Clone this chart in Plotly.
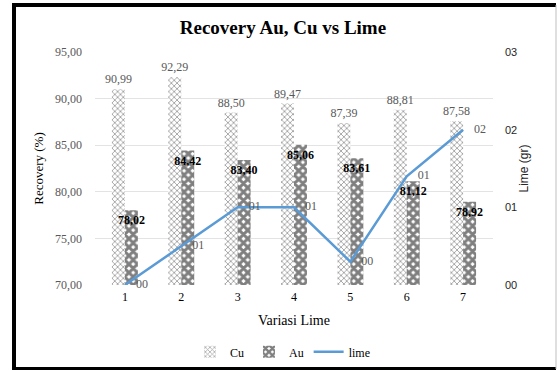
import plotly.graph_objects as go

categories = ["1", "2", "3", "4", "5", "6", "7"]
cu_values = [90.99, 92.29, 88.50, 89.47, 87.39, 88.81, 87.58]
au_values = [78.02, 84.42, 83.40, 85.06, 83.61, 81.12, 78.92]
lime_values = [0.000, 0.005, 0.010, 0.010, 0.003, 0.014, 0.020]
lime_labels = ["00", "01", "01", "01", "00", "01", "02"]
left_ticks = [70, 75, 80, 85, 90, 95]
right_ticks = [0.0, 0.01, 0.02, 0.03]
right_tick_labels = ["00", "01", "02", "03"]

SERIF = "Liberation Serif"
SANS = "Liberation Sans"
GRAY = "#595959"

fig = go.Figure()
fig.add_trace(go.Bar(
    x=categories, y=cu_values, name="Cu",
    marker=dict(color="white", line=dict(width=0),
                pattern=dict(shape="x", fgcolor="#444444", bgcolor="white",
                             size=4, solidity=0.4)),
    texttemplate="%{y:.2f}", textposition="outside", cliponaxis=False,
    constraintext="none",
    textfont=dict(family=SERIF, size=12, color=GRAY), textangle=0,
))
fig.add_trace(go.Bar(
    x=categories, y=au_values, name="Au",
    marker=dict(color="white", line=dict(width=0),
                pattern=dict(shape="x", fgcolor="black", bgcolor="white",
                             size=6, solidity=0.75)),
    texttemplate="<b>%{y:.2f}</b>", textposition="inside",
    insidetextanchor="end", constraintext="none", textangle=0,
    textfont=dict(family=SERIF, size=12, color="black"),
))
fig.add_trace(go.Scatter(
    x=categories, y=lime_values, name="lime", yaxis="y2",
    mode="lines+markers+text", text=lime_labels, textposition="middle right",
    line=dict(color="#5b9bd5", width=2.5),
    marker=dict(size=16, color="rgba(0,0,0,0)"),
    textfont=dict(family=SERIF, size=12, color=GRAY), cliponaxis=False,
))

border = dict(xref="paper", yref="paper", layer="above")
fig.update_layout(
    width=557, height=370,
    margin=dict(l=95, r=64, t=52, b=85, autoexpand=False),
    paper_bgcolor="white", plot_bgcolor="white",
    separators=",.",
    barmode="group", bargap=0.54, bargroupgap=0,
    font=dict(family=SERIF, size=12, color=GRAY),
    title=dict(text="<b>Recovery Au, Cu vs Lime</b>", x=0.508, xanchor="center",
               y=0.927, yanchor="middle",
               font=dict(family=SERIF, size=19, color="black")),
    xaxis=dict(showgrid=False, showline=False, ticks="", automargin=False,
               ticklabelstandoff=3,
               tickfont=dict(family=SERIF, size=12, color="black"),
               title=dict(text="Variasi Lime", standoff=12,
                          font=dict(family=SERIF, size=14, color="black"))),
    yaxis=dict(range=[70, 95], tickvals=left_ticks, tickformat=".2f",
               showgrid=True, gridcolor="#e3e3e3", gridwidth=1,
               zeroline=False, showline=False, ticks="", automargin=False,
               ticklabelstandoff=12,
               tickfont=dict(family=SERIF, size=12, color=GRAY),
               title=dict(text="Recovery (%)", standoff=8,
                          font=dict(family=SERIF, size=13, color="black"))),
    yaxis2=dict(range=[0, 0.03], overlaying="y", side="right",
                tickvals=right_ticks, ticktext=right_tick_labels,
                showgrid=False, zeroline=False, showline=False, ticks="",
                automargin=False, ticklabelstandoff=11,
                tickfont=dict(family=SANS, size=11, color="#262626"),
                title=dict(text="Lime (gr)", standoff=3,
                           font=dict(family=SANS, size=12, color="#262626"))),
    legend=dict(orientation="h", x=0.508, xanchor="center", xref="container",
                y=0.049, yanchor="middle", yref="container", itemwidth=30,
                font=dict(family=SERIF, size=12, color="black")),
    showlegend=True,
    shapes=[
        dict(type="line", x0=-0.2035, x1=-0.2035, y0=1.2017, y1=-0.3605,
             line=dict(color="black", width=4), **border),
        dict(type="line", x0=-0.2085, x1=1.1583, y0=1.2017, y1=1.2017,
             line=dict(color="black", width=4), **border),
        dict(type="line", x0=-0.2085, x1=1.1583, y0=-0.3605, y1=-0.3605,
             line=dict(color="black", width=4), **border),
        dict(type="line", x0=1.1583, x1=1.1583, y0=1.2017, y1=-0.3605,
             line=dict(color="#bfbfbf", width=1), **border),
    ],
)

fig.write_html("out.html")
